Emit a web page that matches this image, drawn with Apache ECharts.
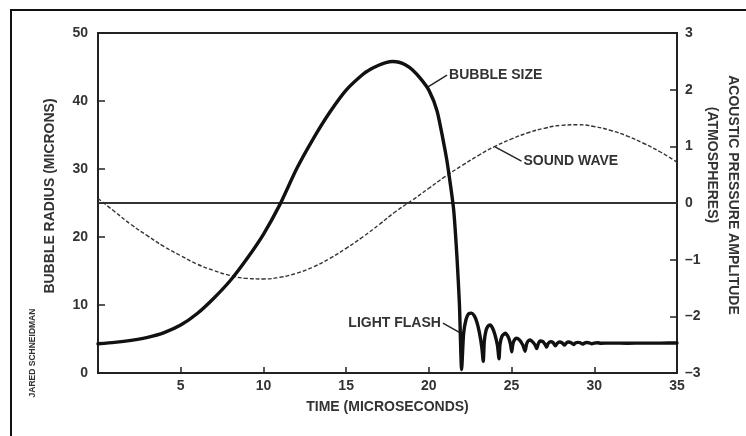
<!DOCTYPE html>
<html>
<head>
<meta charset="utf-8">
<script src="https://cdn.jsdelivr.net/npm/echarts@6/dist/echarts.min.js"></script>
<style>
html,body{margin:0;padding:0;background:#fff;}
#chart{width:746px;height:436px;}
</style>
</head>
<body>
<div id="chart"></div>
<script>
// ---- data ----
const xTicks = [0, 5, 10, 15, 20, 25, 30, 35];
const leftTicks = [0, 10, 20, 30, 40, 50];
const rightTicks = [-3, -2, -1, 0, 1, 2, 3];

// bubble radius (microns) vs time (microseconds)
const bubbleTime = [0,1,2,3,4,5,6,7,8,9,10,11,12,13,14,15,16,16.5,17,17.4,17.8,18.2,18.6,19,19.5,20,20.5,21,21.2,21.5,21.7,21.85,21.98,
  22.1,22.25,22.4,22.58,22.75,22.9,23.05,23.2,23.29,
  23.35,23.45,23.58,23.7,23.85,24.0,24.15,24.24,
  24.3,24.42,24.61,24.8,24.93,25.01,
  25.08,25.18,25.31,25.5,25.68,25.82,
  25.9,26.0,26.12,26.3,26.45,26.52,
  26.6,26.72,26.9,27.05,27.12,
  27.2,27.35,27.5,27.65,
  27.75,27.9,28.05,28.2,
  28.3,28.45,28.6,28.75,
  28.85,29.0,29.15,29.3,
  29.4,29.55,29.7,29.85,
  30.0,30.2,30.4,31,32,33,34,35];
const bubbleRadius = [4.3,4.5,4.8,5.25,5.95,7.05,8.75,11.0,13.6,16.8,20.4,24.8,30.0,34.4,38.3,41.6,43.9,44.7,45.3,45.65,45.8,45.7,45.3,44.6,43.3,41.6,38.5,32.5,29.5,24.0,17.0,10.0,0.5,
  5.8,7.9,8.7,8.8,8.4,7.5,6.0,3.8,1.7,
  4.6,6.2,6.9,7.05,6.6,5.6,4.0,2.1,
  4.2,5.4,5.85,5.3,4.3,3.1,
  4.3,4.9,5.1,4.8,4.1,3.2,
  4.2,4.7,4.85,4.5,4.0,3.6,
  4.2,4.7,4.6,4.1,3.8,
  4.3,4.6,4.5,4.0,
  4.35,4.55,4.45,4.1,
  4.4,4.55,4.45,4.2,
  4.4,4.5,4.45,4.25,
  4.4,4.48,4.42,4.3,
  4.4,4.45,4.38,4.4,4.38,4.4,4.4,4.42];

// acoustic pressure (atmospheres) vs time
const soundTime = [0,1,2,3,4,5,6,7,8,9,10,11,12,13,14,15,16,17,18,19,20,21,22,23,24,25,26,27,28,29,30,31,32,33,34,35];
const soundPressure = [0.08,-0.15,-0.38,-0.58,-0.77,-0.93,-1.08,-1.19,-1.28,-1.33,-1.34,-1.31,-1.24,-1.13,-0.98,-0.80,-0.60,-0.38,-0.15,0.05,0.26,0.47,0.66,0.84,1.0,1.13,1.24,1.32,1.37,1.38,1.35,1.28,1.18,1.05,0.90,0.72];

// zero-pressure reference line
const zeroLineTime = [0, 35];
const zeroLinePressure = [0, 0];

// annotations: text, leader start (on curve), leader end, axis
const annotations = [
  {text: 'BUBBLE SIZE', from: [19.9, 42.0], to: [21.1, 43.8], axis: 0, align: 'left'},
  {text: 'SOUND WAVE', from: [24.0, 0.99], to: [25.6, 0.74], axis: 1, align: 'left'},
  {text: 'LIGHT FLASH', from: [21.9, 5.9], to: [20.85, 7.35], axis: 0, align: 'right'}
];

const FONT = '"Liberation Sans", Arial, Helvetica, sans-serif';
const INK = '#333';
const W = 'bold';

const zip = (a, b) => a.map((v, i) => [v, b[i]]);

const chart = echarts.init(document.getElementById('chart'), null, {renderer: 'canvas'});

const option = {
  animation: false,
  backgroundColor: '#fff',
  grid: {left: 98, right: 69, top: 33, bottom: 63, show: true, borderColor: '#222', borderWidth: 2},
  xAxis: {
    type: 'value', min: xTicks[0], max: xTicks[xTicks.length - 1], interval: 5,
    name: 'TIME (MICROSECONDS)', nameLocation: 'middle', nameGap: 27,
    nameTextStyle: {fontFamily: FONT, fontSize: 14, color: INK, fontWeight: W},
    axisLine: {show: true, lineStyle: {color: '#222', width: 2}},
    axisTick: {show: true, inside: true, length: 6, lineStyle: {color: '#222', width: 1.5}},
    axisLabel: {fontFamily: FONT, fontSize: 14, color: INK, fontWeight: W, margin: 6,
      formatter: v => (v === 0 ? '' : String(v))},
    splitLine: {show: false}
  },
  yAxis: [
    {
      type: 'value', position: 'left', min: leftTicks[0], max: leftTicks[leftTicks.length - 1], interval: 10,
      axisLine: {show: true, lineStyle: {color: '#222', width: 2}},
      axisTick: {show: true, inside: true, length: 7, lineStyle: {color: '#222', width: 1.5}},
      axisLabel: {fontFamily: FONT, fontSize: 14, color: INK, fontWeight: W, margin: 10},
      splitLine: {show: false}
    },
    {
      type: 'value', position: 'right', min: rightTicks[0], max: rightTicks[rightTicks.length - 1], interval: 1,
      axisLine: {show: true, lineStyle: {color: '#222', width: 2}},
      axisTick: {show: true, inside: true, length: 7, lineStyle: {color: '#222', width: 1.5}},
      axisLabel: {fontFamily: FONT, fontSize: 14, color: INK, fontWeight: W, margin: 8,
        formatter: v => String(v).replace('-', '\u2013')},
      splitLine: {show: false}
    }
  ],
  series: [
    {
      name: 'zero', type: 'line', yAxisIndex: 1, data: zip(zeroLineTime, zeroLinePressure),
      showSymbol: false, lineStyle: {color: '#333', width: 1.8}, silent: true
    },
    {
      name: 'SOUND WAVE', type: 'line', yAxisIndex: 1, data: zip(soundTime, soundPressure),
      showSymbol: false, smooth: true, lineStyle: {color: '#333', width: 1.4, type: [4, 2]}
    },
    {
      name: 'BUBBLE SIZE', type: 'line', yAxisIndex: 0, data: zip(bubbleTime, bubbleRadius),
      showSymbol: false, smooth: 0.2, lineStyle: {color: '#111', width: 3.4, join: 'round', cap: 'round'}
    }
  ]
};
chart.setOption(option);

// frame, credit, axis titles and annotations, positioned through the chart's own scales
const graphics = [
  {type: 'polyline', shape: {points: [[11, 436], [11, 10], [746, 10]]}, style: {stroke: '#111', lineWidth: 2, fill: null}},
  {type: 'text', x: 33, y: 353, rotation: Math.PI / 2, style: {text: 'JARED SCHNEIDMAN', fontFamily: FONT, fontSize: 8.5, fontWeight: 'bold', fill: '#333', align: 'center', verticalAlign: 'middle'}},
  {type: 'text', x: 50, y: 196, rotation: Math.PI / 2, style: {text: 'BUBBLE RADIUS (MICRONS)', fontFamily: FONT, fontSize: 14, fontWeight: W, fill: INK, align: 'center', verticalAlign: 'middle'}},
  {type: 'text', x: 733, y: 195, rotation: -Math.PI / 2, style: {text: 'ACOUSTIC PRESSURE AMPLITUDE', fontFamily: FONT, fontSize: 14, fontWeight: W, fill: INK, align: 'center', verticalAlign: 'middle'}},
  {type: 'text', x: 712, y: 165, rotation: -Math.PI / 2, style: {text: '(ATMOSPHERES)', fontFamily: FONT, fontSize: 14, fontWeight: W, fill: INK, align: 'center', verticalAlign: 'middle'}}
];
annotations.forEach(a => {
  const finder = {xAxisIndex: 0, yAxisIndex: a.axis};
  const p0 = chart.convertToPixel(finder, a.from);
  const p1 = chart.convertToPixel(finder, a.to);
  graphics.push({type: 'line', shape: {x1: p0[0], y1: p0[1], x2: p1[0], y2: p1[1]}, style: {stroke: '#222', lineWidth: 1.4}});
  graphics.push({type: 'text', x: p1[0] + (a.align === 'left' ? 2 : -2), y: p1[1],
    style: {text: a.text, fontFamily: FONT, fontSize: 14, fontWeight: W, fill: INK, align: a.align, verticalAlign: 'middle'}});
});
chart.setOption({graphic: graphics});
</script>
</body>
</html>
